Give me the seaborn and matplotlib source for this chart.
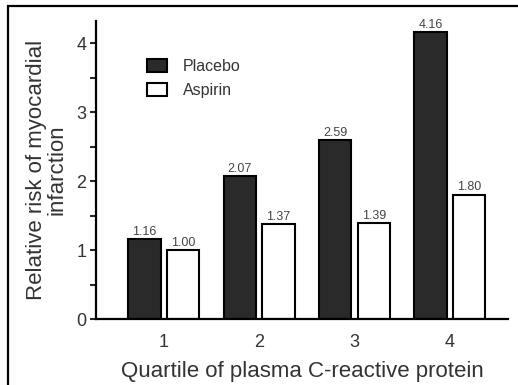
import matplotlib
matplotlib.use("Agg")
import matplotlib.pyplot as plt
import seaborn as sns
import pandas as pd
from matplotlib.patches import Rectangle, Patch
from matplotlib.ticker import MultipleLocator

quartiles = ["1", "2", "3", "4"]
placebo = [1.16, 2.07, 2.59, 4.16]
aspirin = [1.00, 1.37, 1.39, 1.80]
groups = ["Placebo", "Aspirin"]

df = pd.DataFrame({
    "quartile": quartiles * 2,
    "risk": placebo + aspirin,
    "group": [groups[0]] * 4 + [groups[1]] * 4,
})

sns.set_style("white")
plt.rcParams['font.family'] = ['Liberation Sans', 'DejaVu Sans']
TXT = "#333333"

fig = plt.figure(figsize=(5.18, 3.85), dpi=100)
ax = fig.add_axes([96/518, 1-319/385, (508-96)/518, (319-21)/385])

sns.barplot(data=df, x="quartile", y="risk", hue="group", order=quartiles,
            hue_order=groups, palette={"Placebo": "#2a2a2a", "Aspirin": "white"},
            width=0.81, gap=0.16, edgecolor="black", linewidth=1.5,
            ax=ax, legend=False)

for cont in ax.containers:
    ax.bar_label(cont, fmt="%.2f", padding=1, fontsize=9, color="#444444")

ax.set_xlim(-0.71, 3.61)
ax.set_ylim(0, 4.32)
ax.yaxis.set_major_locator(MultipleLocator(1))
ax.yaxis.set_minor_locator(MultipleLocator(0.5))
ax.tick_params(axis="y", which="major", length=4, width=1.5, direction="out",
               labelsize=13, left=True, pad=3, labelcolor=TXT)
ax.tick_params(axis="y", which="minor", length=4, width=1.5, direction="out", left=True)
ax.tick_params(axis="x", length=0, labelsize=13, pad=11, labelcolor=TXT)

for s in ["top", "right"]:
    ax.spines[s].set_visible(False)
for s in ["left", "bottom"]:
    ax.spines[s].set_linewidth(1.6)
    ax.spines[s].set_color("black")

ax.set_xlabel("Quartile of plasma C-reactive protein", fontsize=16, labelpad=7, color=TXT)
ax.set_ylabel("Relative risk of myocardial\ninfarction", fontsize=16,
              labelpad=6, linespacing=1.0, color=TXT)

handles = [Patch(facecolor="#2a2a2a", edgecolor="black", linewidth=1.5),
           Patch(facecolor="white", edgecolor="black", linewidth=1.5)]
ax.legend(handles, groups, loc="upper left", bbox_to_anchor=(0.09, 0.92),
          frameon=False, fontsize=11.5, handlelength=1.2, handleheight=0.9,
          handletextpad=1.0, labelspacing=0.55, labelcolor=TXT)

fig.patches.append(Rectangle((8/518, -0.1), 1.2, 1.1 - 6/385,
                             transform=fig.transFigure, fill=False,
                             edgecolor="black", linewidth=1.6))

fig.savefig("out.png", dpi=100)
